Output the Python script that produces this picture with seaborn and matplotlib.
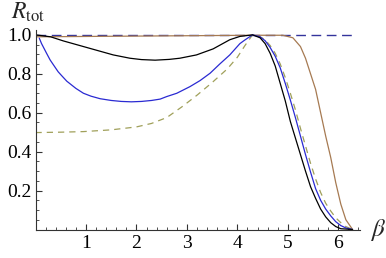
import matplotlib as mpl

mpl.use('Agg')
import matplotlib.pyplot as plt
from matplotlib.ticker import MultipleLocator
import seaborn as sns

#### data ####
beta_black = [0.0, 0.3, 0.55, 0.88, 1.21, 1.54, 1.87, 2.1, 2.37, 2.65, 2.86,
              3.19, 3.52, 3.85, 4.05, 4.3, 4.45, 4.55, 4.65, 4.75, 4.85, 4.95,
              5.05, 5.15, 5.25, 5.35, 5.45, 5.55, 5.65, 5.75, 5.85, 5.95, 6.05,
              6.283]
r_black = [1.0, 0.99, 0.969, 0.945, 0.921, 0.897, 0.880, 0.873, 0.870, 0.874,
           0.880, 0.897, 0.928, 0.975, 0.992, 1.0, 0.985, 0.955, 0.905, 0.84,
           0.75, 0.66, 0.555, 0.47, 0.385, 0.30, 0.22, 0.16, 0.105, 0.065,
           0.035, 0.015, 0.004, 0.0]

beta_blue = [0.075, 0.12, 0.18, 0.22, 0.29, 0.35, 0.45, 0.52, 0.62, 0.8, 0.95,
             1.1, 1.28, 1.5, 1.7, 1.9, 2.1, 2.3, 2.47, 2.6, 2.8, 3.06, 3.26,
             3.46, 3.65, 3.85, 4.05, 4.15, 4.3, 4.45, 4.55, 4.65, 4.75, 4.85,
             4.95, 5.05, 5.15, 5.25, 5.35, 5.45, 5.55, 5.65, 5.75, 5.85, 5.95,
             6.05, 6.15, 6.283]
r_blue = [0.983, 0.955, 0.925, 0.905, 0.871, 0.848, 0.81, 0.79, 0.762, 0.725,
          0.700, 0.685, 0.672, 0.663, 0.658, 0.656, 0.658, 0.663, 0.670,
          0.683, 0.700, 0.734, 0.765, 0.803, 0.85, 0.897, 0.955, 0.974, 1.0,
          0.99, 0.97, 0.935, 0.89, 0.83, 0.75, 0.665, 0.575, 0.48, 0.385,
          0.295, 0.21, 0.15, 0.105, 0.07, 0.04, 0.02, 0.008, 0.0]

beta_green = [0.0, 0.5, 0.95, 1.5, 2.0, 2.3, 2.6, 2.9, 3.2, 3.5, 3.8, 4.0,
              4.15, 4.3, 4.45, 4.55, 4.65, 4.75, 4.85, 4.95, 5.05, 5.15, 5.25,
              5.35, 5.45, 5.55, 5.65, 5.75, 5.85, 5.95, 6.05, 6.15, 6.283]
r_green = [0.498, 0.500, 0.503, 0.512, 0.527, 0.545, 0.575, 0.63, 0.69, 0.755,
           0.825, 0.885, 0.945, 1.0, 0.99, 0.975, 0.945, 0.905, 0.85, 0.78,
           0.70, 0.615, 0.52, 0.43, 0.34, 0.26, 0.19, 0.135, 0.095, 0.06,
           0.035, 0.015, 0.0]

beta_brown = [0.0, 4.3, 4.9, 5.1, 5.25, 5.35, 5.45, 5.55, 5.65, 5.75, 5.85,
              5.95, 6.05, 6.15, 6.283]
r_brown = [0.99, 0.998, 0.998, 0.985, 0.94, 0.88, 0.80, 0.72, 0.60, 0.48,
           0.37, 0.24, 0.13, 0.05, 0.0]

beta_flat = [0.0, 6.283]
r_flat = [1.0, 1.0]

y_ticks = [0.2, 0.4, 0.6, 0.8, 1.0]
x_ticks = [1, 2, 3, 4, 5, 6]

###############

sns.set_style('ticks')
plt.rcParams['font.family'] = ['Liberation Serif', 'DejaVu Serif']
plt.rcParams['mathtext.fontset'] = 'stix'

figure = plt.figure(figsize=(3.86, 2.58), dpi=100)
axis = figure.add_axes([35.5 / 386, 28.5 / 258, 324.5 / 386, 199.5 / 258])

sns.lineplot(x=beta_flat, y=r_flat, color='#34349c', lw=1.0, ax=axis,
             linestyle=(0, (7, 4)))
sns.lineplot(x=beta_brown, y=r_brown, color='#a67a52', lw=0.9, ax=axis)
sns.lineplot(x=beta_green, y=r_green, color='#a0a05a', lw=0.9, ax=axis,
             linestyle=(0, (5, 4)))
sns.lineplot(x=beta_blue, y=r_blue, color='#2a2ad2', lw=0.9, ax=axis)
sns.lineplot(x=beta_black, y=r_black, color='black', lw=0.9, ax=axis)

axis.set_xlim(0, 6.43)
axis.set_ylim(0, 1.025)
axis.set_xticks(x_ticks)
axis.set_yticks(y_ticks)
axis.set_xticklabels([str(t) for t in x_ticks])
axis.set_yticklabels(['%.1f' % t for t in y_ticks])
axis.xaxis.set_minor_locator(MultipleLocator(0.2))
axis.yaxis.set_minor_locator(MultipleLocator(0.05))
axis.tick_params(which='major', direction='in', length=4, width=0.8,
                 labelsize=14, colors='#333333', labelcolor='black')
axis.tick_params(axis='x', which='major', pad=4)
axis.tick_params(axis='y', which='major', pad=3)
axis.tick_params(which='minor', direction='in', length=2, width=0.6,
                 colors='#333333')
for side in ['top', 'right']:
    axis.spines[side].set_visible(False)
for side in ['left', 'bottom']:
    axis.spines[side].set_linewidth(0.8)
    axis.spines[side].set_color('#333333')
axis.set(xlabel='', ylabel='')

figure.text(11 / 386, 1 - 19 / 258, r'$R_{\mathrm{tot}}$', fontsize=17,
            va='baseline', ha='left')
figure.text(370 / 386, 1 - 236 / 258, r'$\beta$', fontsize=18,
            va='baseline', ha='left')

plt.savefig('out.png', dpi=100)
